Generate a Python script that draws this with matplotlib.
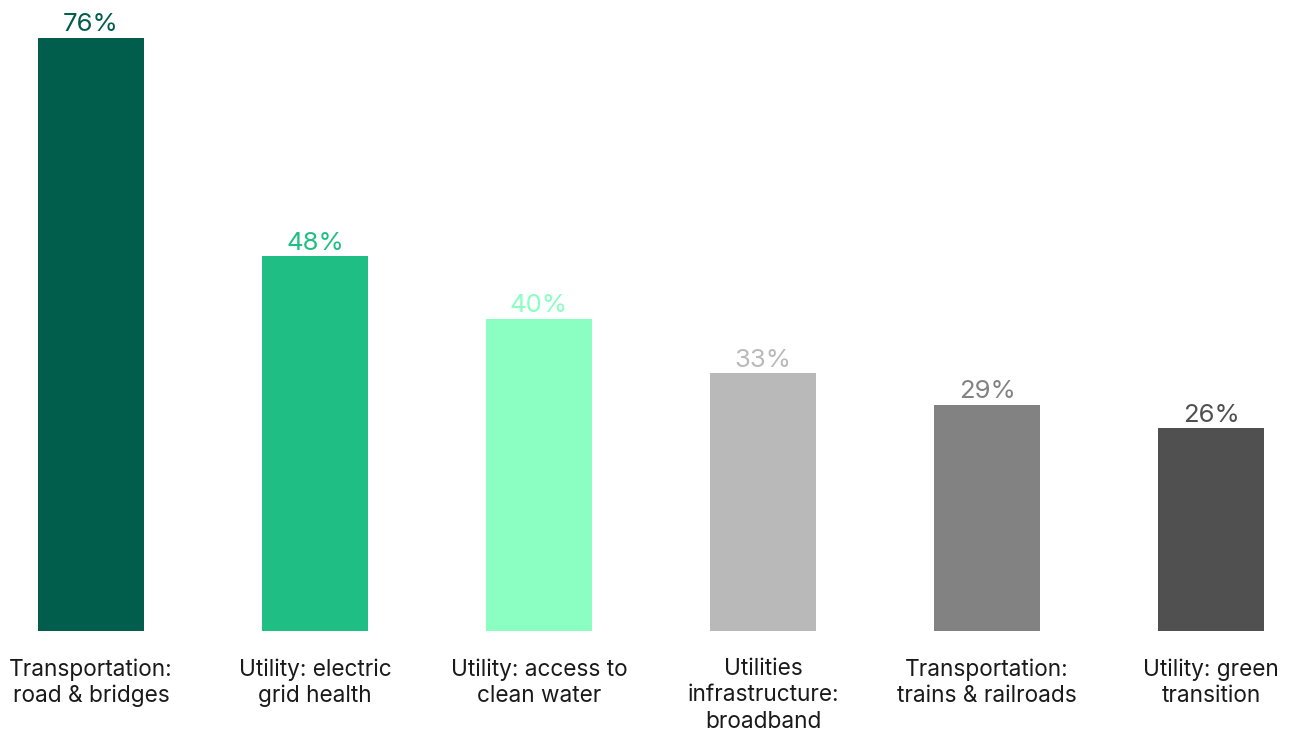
import matplotlib
matplotlib.use("Agg")
import matplotlib.pyplot as plt
import numpy as np

plt.rcParams['font.family'] = ['Inter', 'DejaVu Sans']

categories = ["Transportation:\nroad & bridges", "Utility: electric\ngrid health",
              "Utility: access to\nclean water", "Utilities\ninfrastructure:\nbroadband",
              "Transportation:\ntrains & railroads", "Utility: green\ntransition"]
values = [76, 48, 40, 33, 29, 26]
colors = ["#025E4C", "#1EBE85", "#8AFFC1", "#B9B9B9", "#828282", "#505050"]

fig = plt.figure(figsize=(12.89, 7.31), dpi=100)
ax = fig.add_axes([0, 100/731, 1, 631/731])

x = np.arange(len(values))
ax.bar(x, values, width=106/224, color=colors)
for i, v in enumerate(values):
    ax.text(x[i], v + 0.2, f"{v}%", ha="center", va="bottom", fontsize=18.5, color=colors[i])

ax.set_xlim(-91/224, (1289-91)/224)
ax.set_ylim(0, 631/7.805)
ax.set_xticks(x)
ax.set_xticklabels(categories, fontsize=16.3, color="#1a1a1a", linespacing=1.25)
ax.tick_params(axis="x", length=0, pad=19.5)
ax.set_yticks([])
for s in ax.spines.values():
    s.set_visible(False)

fig.savefig("out.png", dpi=100)
